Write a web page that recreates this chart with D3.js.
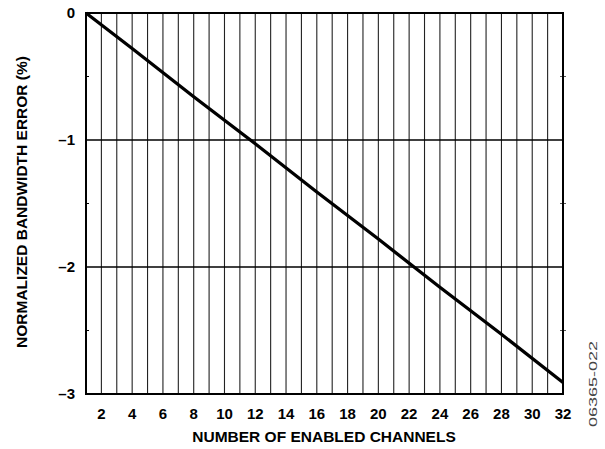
<!DOCTYPE html>
<html><head><meta charset="utf-8">
<script src="https://cdn.jsdelivr.net/npm/d3@7"></script>
<style>body{margin:0;background:#fff}svg{display:block}text{font-family:"Liberation Sans",Arial,sans-serif}</style>
</head><body>
<svg id="c" width="605" height="449"></svg>
<script>
const channels = [1, 4, 8, 12, 16, 20, 24, 28, 32];
const errorPct = [0, -0.28, -0.66, -1.03, -1.41, -1.78, -2.16, -2.53, -2.91];
const xTickLabels = [2,4,6,8,10,12,14,16,18,20,22,24,26,28,30,32];
const xGrid = d3.range(1, 33);
const yTicks = [0, -1, -2, -3];
const yMinor = [-0.5, -1.5, -2.5];

const svg = d3.select("#c");
const L = 86, R = 563, T = 13, B = 394;
const x = d3.scaleLinear().domain([1, 32]).range([L, R]);
const y = d3.scaleLinear().domain([0, -3]).range([T, B]);

svg.append("g").selectAll("line").data(xGrid).join("line")
  .attr("x1", d => x(d)).attr("x2", d => x(d)).attr("y1", T).attr("y2", B)
  .attr("stroke", "#222").attr("stroke-width", 1.1);
svg.append("g").selectAll("line").data(yTicks).join("line")
  .attr("x1", L).attr("x2", R).attr("y1", d => y(d)).attr("y2", d => y(d))
  .attr("stroke", "#000").attr("stroke-width", 1.5);
svg.append("g").selectAll("line").data(yMinor).join("line")
  .attr("x1", L).attr("x2", L + 3).attr("y1", d => y(d)).attr("y2", d => y(d))
  .attr("stroke", "#000").attr("stroke-width", 1);
svg.append("g").selectAll("line").data(yMinor).join("line")
  .attr("x1", R - 3).attr("x2", R + 3).attr("y1", d => y(d)).attr("y2", d => y(d))
  .attr("stroke", "#555").attr("stroke-width", 1);
svg.append("rect").attr("x", L).attr("y", T).attr("width", R - L).attr("height", B - T)
  .attr("fill", "none").attr("stroke", "#000").attr("stroke-width", 2);

const pts = channels.map((c, i) => [c, errorPct[i]]);
svg.append("path").datum(pts)
  .attr("d", d3.line().x(d => x(d[0])).y(d => y(d[1])))
  .attr("fill", "none").attr("stroke", "#000").attr("stroke-width", 3.3);

svg.append("g").selectAll("text").data(xTickLabels).join("text")
  .attr("x", d => x(d)).attr("y", 419).attr("text-anchor", "middle")
  .attr("font-size", 15).attr("font-weight", "bold").text(d => d);
svg.append("g").selectAll("text").data(yTicks).join("text")
  .attr("x", 75).attr("y", d => y(d) + 5).attr("text-anchor", "end")
  .attr("font-size", 15).attr("font-weight", "bold")
  .text(d => d === 0 ? "0" : "\u2013" + Math.abs(d));

svg.append("text").attr("x", 324).attr("y", 442).attr("text-anchor", "middle")
  .attr("font-size", 15.5).attr("font-weight", "bold").text("NUMBER OF ENABLED CHANNELS");
svg.append("text").attr("transform", "translate(27,202) rotate(-90)").attr("text-anchor", "middle")
  .attr("font-size", 15.5).attr("font-weight", "bold").text("NORMALIZED BANDWIDTH ERROR (%)");
svg.append("text").attr("transform", "translate(597,384) rotate(-90)").attr("text-anchor", "middle")
  .attr("font-size", 10).attr("fill", "#444")
  .attr("textLength", 86).attr("lengthAdjust", "spacingAndGlyphs").text("06365-022");
</script>
</body></html>
